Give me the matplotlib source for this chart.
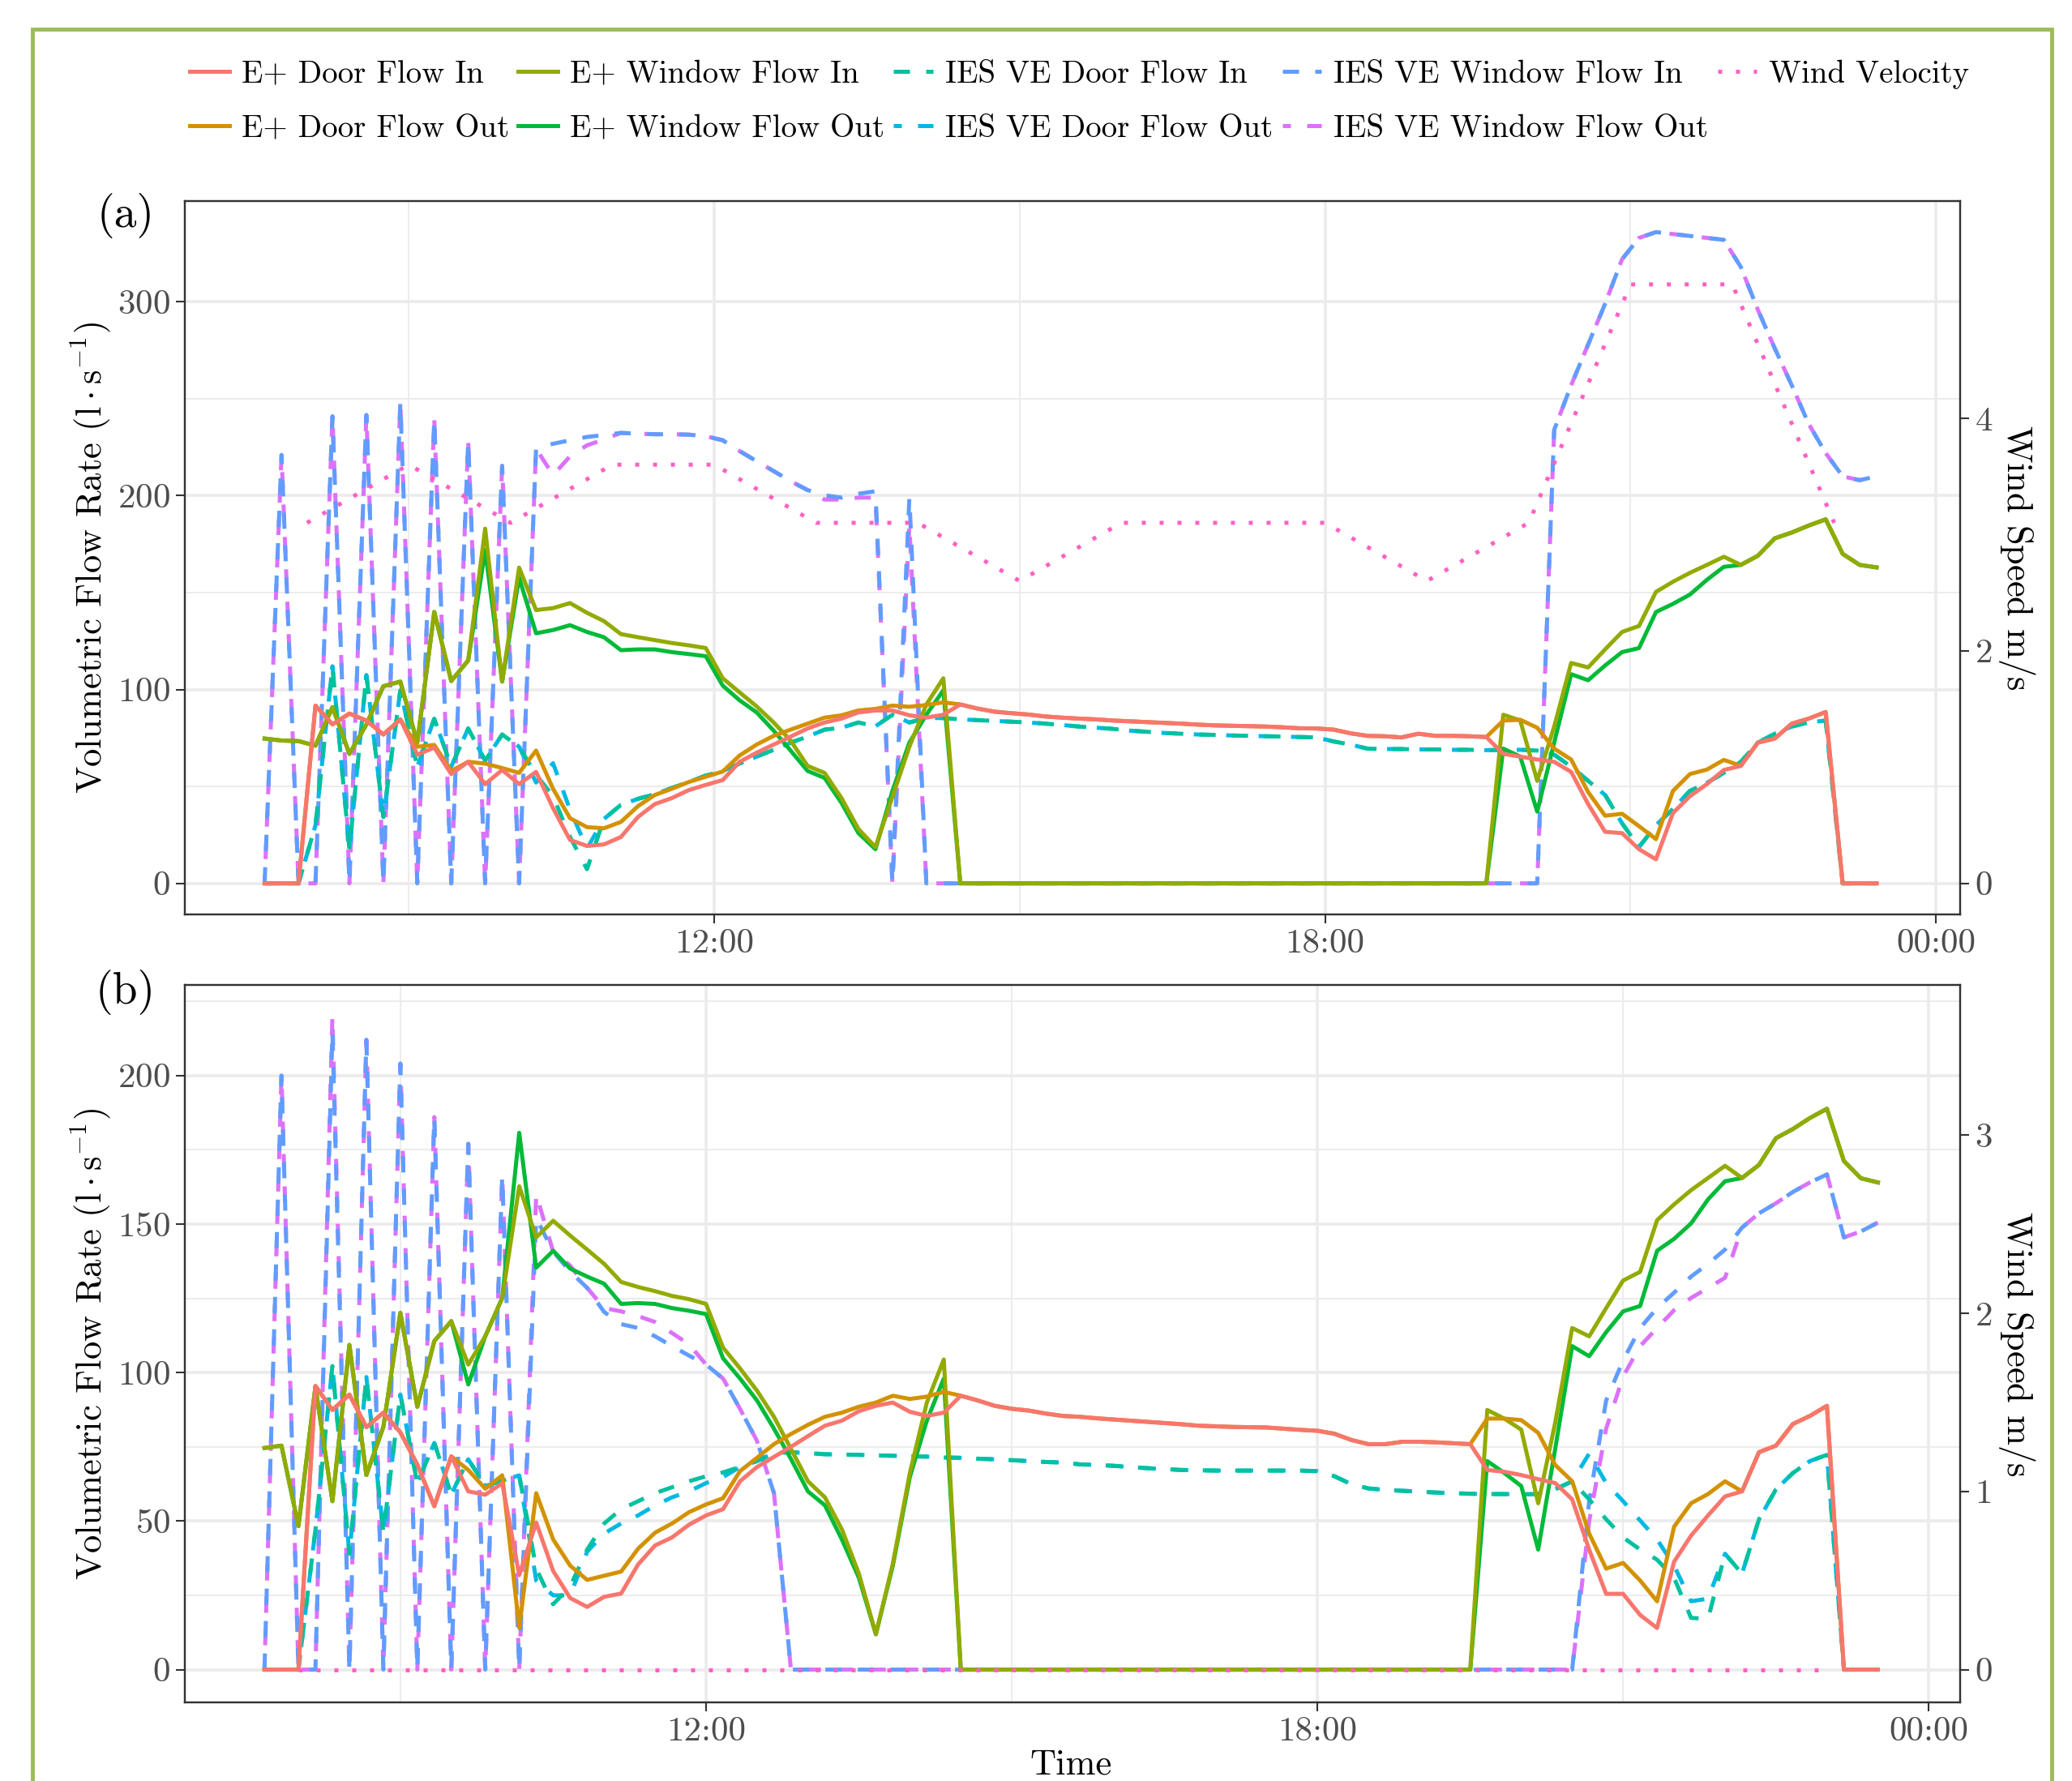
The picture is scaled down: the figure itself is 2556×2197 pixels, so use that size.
import pandas as pd
import matplotlib
matplotlib.use("Agg")
from matplotlib import pyplot as plt
from matplotlib.patches import Rectangle
import matplotlib.dates as mdates

plt.rcParams['font.family'] = ['cmr10', 'DejaVu Serif']
plt.rcParams['mathtext.fontset'] = 'cm'
plt.rcParams['axes.formatter.use_mathtext'] = True

# ---------------- data (10 minute steps) ----------------
times_a = pd.date_range("2000-01-01 07:35", periods=96, freq="10min")
times_b = pd.date_range("2000-01-01 07:40", periods=96, freq="10min")
wind_times = pd.date_range("2000-01-01 08:00", periods=16, freq="h")

# panel (a)
door_in_a = [0, 0, 0, 91.7, 82, 87.6, 84, 76.8, 84.6, 66.4, 70, 56.4,
             62.7, 51.2, 58.5, 51.2, 57.5, 38.8, 22.4, 19.3, 20.1, 23.9, 34.2, 40.9,
             44, 48.1, 50.8, 53.3, 62.7, 67.4, 71.6, 75.7, 79.9, 83, 85, 88.2,
             89.2, 89.2, 86.7, 85.5, 87, 92.3, 90.2, 88.6, 87.8, 87.1, 86.1, 85.5,
             85, 84.6, 84, 83.6, 83.2, 82.8, 82.4, 81.9, 81.5, 81.3, 81.1, 80.9,
             80.5, 80, 79.9, 79.3, 77.4, 76.1, 75.9, 75.3, 77.2, 76.1, 76.1, 75.9,
             75.5, 66.8, 65.4, 63.9, 62.7, 57.5, 40.9, 26.6, 25.9, 17.6, 12.4, 36.3,
             45, 51.2, 58.5, 60.6, 72.6, 74.7, 82.4, 85, 88.4, 0, 0, 0]
door_out_a = [0, 0, 0, 91.7, 82, 87.6, 84, 76.8, 84.6, 70.5, 71.4, 58,
              62.7, 61.8, 59.5, 57, 68.5, 48.8, 33.6, 29, 28.4, 31.7, 39.8, 45.6,
              48.8, 52.3, 55, 57.7, 66, 71.6, 76.1, 79.3, 82.4, 85.5, 86.7, 89.2,
              90, 91.7, 91.1, 92, 93.4, 92.3, 90.2, 88.6, 87.8, 87.1, 86.1, 85.5,
              85, 84.6, 84, 83.6, 83.2, 82.8, 82.4, 81.9, 81.5, 81.3, 81.1, 80.9,
              80.5, 80, 79.9, 79.3, 77.4, 76.1, 75.9, 75.3, 77.2, 76.1, 76.1, 75.9,
              75.5, 84, 84.4, 80.3, 69.5, 63.9, 47.1, 34.9, 35.9, 29.5, 22.8, 47.7,
              56.4, 58.7, 63.7, 60.6, 72.6, 74.7, 82.4, 85, 88.4, 0, 0, 0]
win_in_a = [74.7, 73.7, 73.4, 71, 90.9, 66.8, 82, 101.7, 104.1, 72.6, 140, 104.4,
            115, 183, 104.1, 162.9, 141, 142, 144.6, 139.6, 135.3, 128.6, 127, 125.5,
            124, 122.8, 121.4, 105.8, 98.5, 91.3, 83, 73.7, 60.6, 57, 44, 28,
            18.7, 44.6, 70.5, 92.3, 105.8, 0, 0, 0, 0, 0, 0, 0,
            0, 0, 0, 0, 0, 0, 0, 0, 0, 0, 0, 0,
            0, 0, 0, 0, 0, 0, 0, 0, 0, 0, 0, 0,
            0, 87, 84, 52.9, 80.9, 113.7, 111.4, 120.7, 129.7, 132.8, 150.4, 155.6,
            160.2, 164.3, 168.5, 164.3, 169, 178, 181, 184.6, 187.8, 170, 164.3, 163]
win_out_a = [74.7, 73.7, 73.4, 71, 90.9, 66.8, 82, 101.7, 104.1, 72.6, 140, 104.4,
             115, 172, 104.1, 157.7, 129, 130.7, 133.2, 129.7, 127, 120.3, 120.7, 120.7,
             119.3, 118.3, 117.2, 102, 94.4, 88.2, 78.8, 68.5, 58, 54.4, 41.5, 25.9,
             17.6, 47.7, 72.6, 87, 99.6, 0, 0, 0, 0, 0, 0, 0,
             0, 0, 0, 0, 0, 0, 0, 0, 0, 0, 0, 0,
             0, 0, 0, 0, 0, 0, 0, 0, 0, 0, 0, 0,
             0, 69.5, 65.4, 37, 72.6, 107.9, 104.8, 112.4, 119.3, 121.4, 140, 144.2,
             149, 156.6, 163.3, 164.3, 169, 178, 181, 184.6, 187.8, 170, 164.3, 163]
ies_door_in_a = [0, 0, 0, 30, 112, 17.6, 107.5, 34.2, 99.6, 60.2, 85, 60.2,
                 79.9, 63.3, 76.8, 70.5, 56, 45, 24, 7.3, 33.2, 40.5, 43.6, 46,
                 49.2, 52.3, 55.6, 58, 61.8, 65.4, 68.9, 72.6, 75.7, 79.3, 80.3, 83,
                 81, 87, 83, 85.3, 85.3, 84.6, 84.2, 83.8, 83.4, 83, 82.4, 81.7,
                 80.9, 80.3, 79.7, 78.8, 78.2, 77.6, 77.2, 76.8, 76.6, 76.3, 76.1, 75.9,
                 75.7, 75.5, 75.3, 73.2, 71.6, 69.5, 69.3, 69.3, 69.1, 69.1, 68.9, 68.9,
                 68.7, 68.9, 68.9, 68.5, 66.4, 60.2, 52.9, 45.6, 31, 18.7, 30, 38.4,
                 47.7, 51.9, 57, 62.7, 72.6, 77.2, 80.9, 83, 84, 0, 0, 0]
ies_door_out_a = [0, 0, 0, 30, 112, 17.6, 107.5, 34.2, 99.6, 60.2, 85, 60.2,
                  79.9, 63.3, 76.8, 70.5, 52, 62, 38, 18, 33.2, 40.5, 43.6, 46,
                  49.2, 52.3, 55.6, 58, 61.8, 65.4, 68.9, 72.6, 75.7, 79.3, 80.3, 83,
                  81, 87, 83, 85.3, 85.3, 84.6, 84.2, 83.8, 83.4, 83, 82.4, 81.7,
                  80.9, 80.3, 79.7, 78.8, 78.2, 77.6, 77.2, 76.8, 76.6, 76.3, 76.1, 75.9,
                  75.7, 75.5, 75.3, 73.2, 71.6, 69.5, 69.3, 69.3, 69.1, 69.1, 68.9, 68.9,
                  68.7, 68.9, 68.9, 68.5, 66.4, 60.2, 52.9, 45.6, 31, 18.7, 30, 38.4,
                  47.7, 51.9, 57, 62.7, 72.6, 77.2, 80.9, 83, 84, 0, 0, 0]
ies_win_in_a = [0, 221, 0, 0, 241, 0, 241.7, 0, 248, 0, 239.6, 0,
                228.2, 0, 215.4, 0, 224.3, 226.8, 228.6, 230.3, 231.3, 232.4, 232, 231.7,
                231.7, 231.5, 230.7, 228.6, 223, 217.8, 212.7, 207.5, 202.9, 200.2, 199, 201,
                202.3, 0, 199, 0, 0, 0, 0, 0, 0, 0, 0, 0,
                0, 0, 0, 0, 0, 0, 0, 0, 0, 0, 0, 0,
                0, 0, 0, 0, 0, 0, 0, 0, 0, 0, 0, 0,
                0, 0, 0, 0, 234, 257, 278, 299, 322, 333, 336, 335,
                334, 333, 332, 318, 296, 276, 257, 237, 222, 210, 208, 210]
ies_win_out_a = [0, 221, 0, 0, 241, 0, 241.7, 0, 248, 0, 239.6, 0,
                 228.2, 0, 215.4, 0, 224.3, 210.6, 220.3, 226, 229, 232.4, 232, 231.7,
                 231.7, 231.5, 230.7, 228.6, 223, 217.8, 212.7, 207.5, 202.9, 198, 198, 199,
                 199, 0, 185, 0, 0, 0, 0, 0, 0, 0, 0, 0,
                 0, 0, 0, 0, 0, 0, 0, 0, 0, 0, 0, 0,
                 0, 0, 0, 0, 0, 0, 0, 0, 0, 0, 0, 0,
                 0, 0, 0, 0, 234, 257, 278, 299, 322, 333, 336, 335,
                 334, 333, 332, 318, 296, 276, 257, 237, 222, 210, 208, 210]
wind_a = [3.1, 3.6, 3.1, 3.6, 3.6, 3.1, 3.1, 2.6, 3.1, 3.1, 3.1, 2.6, 3.1, 5.15, 5.15, 3.1]

# panel (b)
door_in_b = [0, 0, 0, 95.5, 87.4, 92.6, 81.6, 86.5, 79.9, 69, 55, 71.8,
             60, 58.9, 62.7, 31.8, 49.5, 33.2, 24.1, 21.1, 24.5, 25.6, 35.4, 41.8,
             44.5, 48.8, 51.9, 54, 63.4, 68.2, 71.6, 75, 78.6, 82.1, 83.8, 87,
             88.8, 89.9, 86.8, 85.4, 86.5, 92.2, 90.6, 88.8, 87.8, 87.2, 86.2, 85.4,
             85.1, 84.6, 84.2, 83.8, 83.4, 83, 82.6, 82.1, 81.9, 81.7, 81.6, 81.5,
             81.1, 80.7, 80.4, 79.4, 77.3, 75.9, 75.9, 76.7, 76.7, 76.5, 76.2, 75.9,
             67.2, 66.6, 65.5, 64.1, 62.8, 57.3, 40.4, 25.5, 25.5, 18.4, 14, 36.3,
             45.1, 51.9, 58.3, 60, 73.2, 75.4, 82.7, 85.4, 88.8, 0, 0, 0]
door_out_b = [0, 0, 0, 95.5, 87.4, 92.6, 81.6, 86.5, 79.9, 69, 55, 71.8,
              67.2, 60.9, 65.4, 14.1, 59.4, 43.8, 35, 30.2, 31.6, 33, 40.7, 46.1,
              49.2, 53, 55.6, 57.7, 66.8, 71.3, 75.9, 79.3, 82.4, 85.1, 86.5, 88.5,
              89.9, 92.2, 91.1, 91.9, 93.5, 92.2, 90.6, 88.8, 87.8, 87.2, 86.2, 85.4,
              85.1, 84.6, 84.2, 83.8, 83.4, 83, 82.6, 82.1, 81.9, 81.7, 81.6, 81.5,
              81.1, 80.7, 80.4, 79.4, 77.3, 75.9, 75.9, 76.7, 76.7, 76.5, 76.2, 75.9,
              84.5, 84.5, 84, 79.7, 68.9, 63.4, 45.8, 34, 35.9, 30, 23, 48.1,
              56, 59.1, 63.4, 60, 73.2, 75.4, 82.7, 85.4, 88.8, 0, 0, 0]
win_in_b = [74.6, 75.4, 48.3, 95.3, 56.7, 109.3, 65.5, 81.7, 120.1, 88.5, 110.6, 117.3,
            102.7, 112.2, 125.1, 162.7, 145.5, 151.1, 146.1, 141.4, 136.6, 130.5, 128.8, 127.4,
            125.8, 124.7, 123.1, 108.4, 101.4, 93.9, 85.1, 74.3, 63.4, 58, 47.2, 32.3,
            11.9, 35.7, 66.2, 89.9, 104.4, 0, 0, 0, 0, 0, 0, 0,
            0, 0, 0, 0, 0, 0, 0, 0, 0, 0, 0, 0,
            0, 0, 0, 0, 0, 0, 0, 0, 0, 0, 0, 0,
            87.4, 84.5, 80.8, 56, 83.1, 115, 112.2, 121.7, 131, 133.9, 151.3, 156.6,
            161.4, 165.5, 169.6, 165.5, 169.9, 178.9, 182, 185.7, 188.8, 171.2, 165.4, 164]
win_out_b = [74.6, 75.4, 48.3, 95.3, 56.7, 109.3, 65.5, 81.7, 120.1, 88.5, 110.6, 117.3,
             96, 112.2, 125.1, 180.7, 135.3, 141, 135, 132.3, 129.9, 123.1, 123.4, 123.1,
             121.7, 120.8, 119.7, 104.8, 98, 90.6, 81.1, 70.9, 60, 55.3, 43.8, 30.9,
             11.9, 35, 64.8, 83.8, 98, 0, 0, 0, 0, 0, 0, 0,
             0, 0, 0, 0, 0, 0, 0, 0, 0, 0, 0, 0,
             0, 0, 0, 0, 0, 0, 0, 0, 0, 0, 0, 0,
             70.2, 66.2, 61.8, 40.4, 74.3, 108.9, 105.5, 113.6, 120.6, 122.4, 141, 145,
             150.2, 158.3, 164.4, 165.5, 169.9, 178.9, 182, 185.7, 188.8, 171.2, 165.4, 164]
ies_door_in_b = [0, 0, 0, 47, 102.2, 39, 98.5, 46.3, 92.6, 62.7, 76.3, 59,
                 70.8, 61.8, 63.6, 65.4, 34, 22, 28, 40.4, 49.2, 54, 56.7, 59.4,
                 61.4, 63.4, 65.1, 66.4, 68.2, 70.2, 72.9, 73.2, 72.9, 72.5, 72.4, 72.3,
                 72.1, 72, 71.8, 71.7, 71.4, 71.3, 71, 70.8, 70.5, 70.2, 69.9, 69.7,
                 69.1, 68.9, 68.6, 68.2, 67.8, 67.5, 67.2, 67.1, 67, 67, 67, 67,
                 67, 67, 66.8, 65.1, 62.4, 61, 60.5, 60.2, 59.9, 59.6, 59.4, 59.2,
                 59.1, 59.1, 59, 59.1, 60.7, 63.4, 57.3, 50.6, 44.5, 40.4, 37, 30.9,
                 17.4, 17.1, 39, 32.3, 50.6, 60.7, 66.2, 70.2, 72.3, 0, 0, 0]
ies_door_out_b = [0, 0, 0, 47, 102.2, 39, 98.5, 46.3, 92.6, 62.7, 76.3, 59,
                  70.8, 61.8, 63.6, 65.4, 30, 25, 25, 39.7, 45.8, 49.2, 51.9, 55.3,
                  58, 60, 62.8, 64.8, 68.2, 70.2, 72.9, 73.2, 72.9, 72.5, 72.4, 72.3,
                  72.1, 72, 71.8, 71.7, 71.4, 71.3, 71, 70.8, 70.5, 70.2, 69.9, 69.7,
                  69.1, 68.9, 68.6, 68.2, 67.8, 67.5, 67.2, 67.1, 67, 67, 67, 67,
                  67, 67, 66.8, 65.1, 62.4, 61, 60.5, 60.2, 59.9, 59.6, 59.4, 59.2,
                  59.1, 59.1, 59, 59.1, 60.7, 63.4, 72.7, 62.8, 56.7, 50.2, 43.8, 35,
                  23, 23.9, 39, 32.3, 50.6, 60.7, 66.2, 70.2, 72.3, 0, 0, 0]
ies_win_in_b = [0, 200, 0, 0, 215, 0, 212, 0, 204, 0, 186, 0,
                177, 0, 166, 0, 152, 140.7, 134, 128.5, 120.4, 116.3, 115, 112.2,
                108.9, 105.7, 102.7, 98, 87.8, 77, 59.4, 0, 0, 0, 0, 0,
                0, 0, 0, 0, 0, 0, 0, 0, 0, 0, 0, 0,
                0, 0, 0, 0, 0, 0, 0, 0, 0, 0, 0, 0,
                0, 0, 0, 0, 0, 0, 0, 0, 0, 0, 0, 0,
                0, 0, 0, 0, 0, 0, 56.7, 90.6, 104.1, 115, 121.7, 126.9,
                132.3, 136.6, 141.4, 148.8, 153.6, 157, 160.8, 164, 166.7, 145.5, 147.5, 150.5]
ies_win_out_b = [0, 200, 0, 0, 220, 0, 212, 0, 204, 0, 186, 0,
                 177, 0, 166, 0, 160, 140.7, 136, 128.5, 121.7, 120.6, 119, 117,
                 113.3, 109.5, 102.7, 98, 87.8, 77, 59.4, 0, 0, 0, 0, 0,
                 0, 0, 0, 0, 0, 0, 0, 0, 0, 0, 0, 0,
                 0, 0, 0, 0, 0, 0, 0, 0, 0, 0, 0, 0,
                 0, 0, 0, 0, 0, 0, 0, 0, 0, 0, 0, 0,
                 0, 0, 0, 0, 0, 0, 49.9, 81.1, 98.7, 108.9, 115, 121,
                 125.1, 128.5, 131.9, 148.8, 153.6, 157, 160.8, 164, 166.7, 145.5, 147.5, 150.5]
wind_b = [0, 0, 0, 0, 0, 0, 0, 0, 0, 0, 0, 0, 0, 0, 0, 0]

WIND_SCALE = 60  # l/s per m/s on the secondary axis

labels = ["E+ Door Flow In", "E+ Door Flow Out", "E+ Window Flow In", "E+ Window Flow Out",
          "IES VE Door Flow In", "IES VE Door Flow Out", "IES VE Window Flow In",
          "IES VE Window Flow Out", "Wind Velocity"]
colors = ["#F8766D", "#D39200", "#93AA00", "#00BA38", "#00C19F", "#00B9E3",
          "#619CFF", "#DB72FB", "#FF61C3"]

LW = 3.6
GRID = "#EBEBEB"
DARK = "#333333"
TICK_SIZE = 31
TITLE_SIZE = 32


def draw_panel(ax, t, series, wind, ylim, yticks, yminor, wticks, xlim):
    # draw order: IES dashed first, then E+ solid (Out under In), wind on top
    order = [7, 6, 5, 4, 3, 2, 1, 0]
    handles = {}
    for i in order:
        if i >= 4:
            ls = (0, (4, 4)) if i in (4, 6) else (2, (4, 4))
        else:
            ls = '-'
        h, = ax.plot(t, series[i], color=colors[i], lw=LW, ls=ls,
                     dash_capstyle='butt', solid_joinstyle='round', label=labels[i])
        handles[i] = h
    h, = ax.plot(wind_times, [w * WIND_SCALE for w in wind], color=colors[8], lw=LW,
                 ls=(0, (1, 3.4)), dash_capstyle='butt', label=labels[8])
    handles[8] = h

    ax.set_xlim(xlim)
    ax.set_ylim(ylim)
    ax.set_yticks(yticks)
    ax.set_yticks(yminor, minor=True)
    ax.xaxis.set_major_locator(mdates.HourLocator(byhour=[0, 12, 18]))
    ax.xaxis.set_minor_locator(mdates.HourLocator(byhour=[9, 15, 21]))
    ax.xaxis.set_major_formatter(mdates.DateFormatter('%H:%M'))
    ax.grid(True, which='major', color=GRID, lw=2.6)
    ax.grid(True, which='minor', color=GRID, lw=1.3)
    ax.set_axisbelow(True)
    ax.tick_params(which='major', length=8, width=1.5, color=DARK, labelsize=TICK_SIZE,
                   labelcolor='#4D4D4D', pad=5)
    ax.tick_params(which='minor', length=0)
    for s in ax.spines.values():
        s.set_color(DARK)
        s.set_linewidth(1.6)
    ax.set_ylabel(r"Volumetric Flow Rate $(\mathrm{l}\cdot\mathrm{s}^{-1})$",
                  fontsize=TITLE_SIZE, va='center')
    ax.yaxis.set_label_coords(-0.053, 0.5)

    ax2 = ax.twinx()
    ax2.set_ylim(ylim[0] / WIND_SCALE, ylim[1] / WIND_SCALE)
    ax2.set_yticks(wticks)
    ax2.tick_params(length=8, width=1.5, color=DARK, labelsize=TICK_SIZE,
                    labelcolor='#4D4D4D', pad=5)
    for s in ax2.spines.values():
        s.set_color(DARK)
        s.set_linewidth(1.6)
    ax2.set_ylabel(r"Wind Speed $\mathrm{m/s}$", fontsize=TITLE_SIZE, rotation=270,
                   va='center')
    ax2.yaxis.set_label_coords(1.032, 0.5)
    return [handles[i] for i in range(9)]


base = pd.Timestamp("2000-01-01")
xlim_a = (base + pd.Timedelta(hours=6.80), base + pd.Timedelta(hours=24.237))
xlim_b = (base + pd.Timedelta(hours=6.885), base + pd.Timedelta(hours=24.307))

fig = plt.figure(figsize=(25.56, 21.97), dpi=100)
ax_a = fig.add_axes([0.0892, 0.4866, 0.8568, 0.4005])
ax_b = fig.add_axes([0.0892, 0.0442, 0.8568, 0.4028])

series_a = [door_in_a, door_out_a, win_in_a, win_out_a, ies_door_in_a, ies_door_out_a,
            ies_win_in_a, ies_win_out_a]
series_b = [door_in_b, door_out_b, win_in_b, win_out_b, ies_door_in_b, ies_door_out_b,
            ies_win_in_b, ies_win_out_b]

handles = draw_panel(ax_a, times_a, series_a, wind_a, (-16, 352), [0, 100, 200, 300],
                     [50, 150, 250], [0, 2, 4], xlim_a)
draw_panel(ax_b, times_b, series_b, wind_b, (-11, 230.5), [0, 50, 100, 150, 200],
           [25, 75, 125, 175, 225], [0, 1, 2, 3], xlim_b)

fig.legend(handles, labels, loc='center', bbox_to_anchor=(0.521, 0.943), ncol=5,
           frameon=False, fontsize=28, handlelength=1.25, handletextpad=0.38,
           columnspacing=0.3, labelspacing=0.8)

fig.text(0.0606, 0.879, "(a)", fontsize=40, ha='center', va='center')
fig.text(0.0606, 0.443, "(b)", fontsize=40, ha='center', va='center')
fig.text(0.517, 0.004, "Time", fontsize=TITLE_SIZE, ha='center', va='baseline')

fig.patches.append(Rectangle((0.0157, -0.02), 0.9746, 1.0036, transform=fig.transFigure,
                             fill=False, edgecolor='#9BBB59', lw=3.5))

fig.savefig("out.png", dpi=100)
